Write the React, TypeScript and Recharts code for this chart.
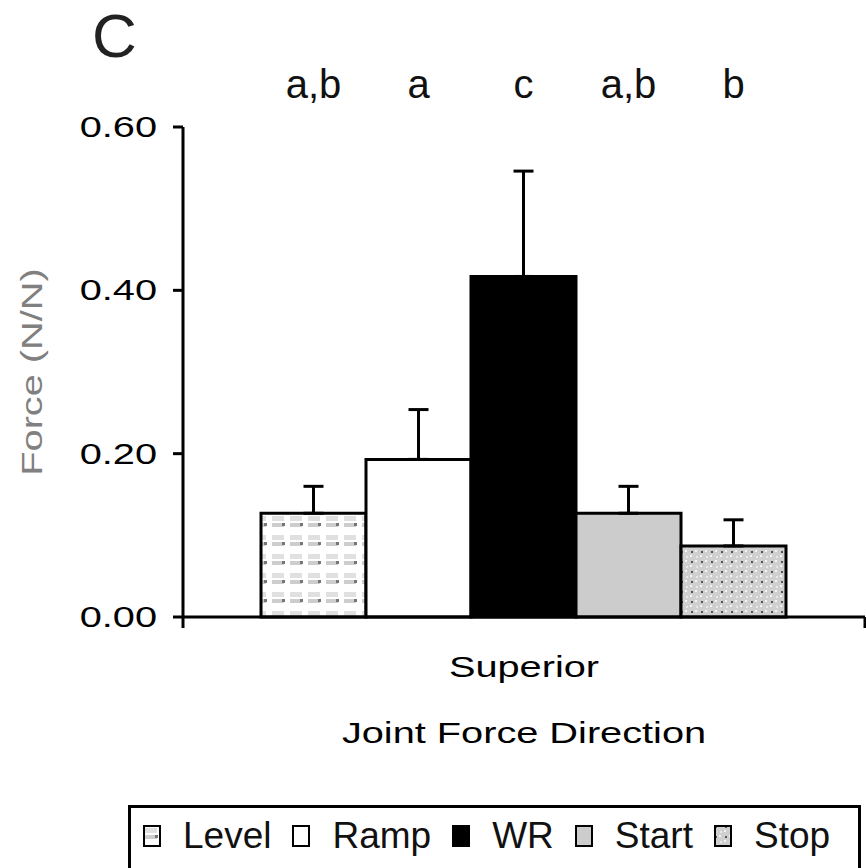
import React from "react";
import { BarChart, Bar, XAxis, YAxis, ErrorBar, LabelList } from "recharts";

// values (panel C, superior joint force)
const categories = ["Superior"];
const seriesNames = ["Level", "Ramp", "WR", "Start", "Stop"];
const means = [0.127, 0.193, 0.417, 0.127, 0.087];
const errors = [0.033, 0.061, 0.129, 0.033, 0.032];
const letters = ["a,b", "a", "c", "a,b", "b"];
const yTicks = [0, 0.2, 0.4, 0.6];

const fills = ["url(#levelPat)", "#ffffff", "#000000", "#cccccc", "url(#stopPat)"];

const data = categories.map((name) => {
  const row: Record<string, any> = { name };
  seriesNames.forEach((s, i) => {
    row[s] = means[i];
    row[s + "Err"] = [0, errors[i]];
  });
  return row;
});

const FONT = "'Liberation Sans', Arial, sans-serif";
const PLOT_TOP = 127;

// the axis text in the figure is horizontally stretched
function WideText({ x, y, anchor = "middle", size = 29, fill = "#000", rotate = 0, children }: any) {
  return (
    <g transform={`translate(${x},${y}) rotate(${rotate}) scale(1.37,1)`}>
      <text x={0} y={0} textAnchor={anchor} fontSize={size} fill={fill} fontFamily={FONT}>
        {children}
      </text>
    </g>
  );
}

const YTick = (p: any) => (
  <WideText x={p.x} y={p.y + 10} anchor="end">
    {Number(p.payload.value).toFixed(2)}
  </WideText>
);

const XTick = (p: any) => {
  const c = p.payload.coordinate;
  const off = p.payload.offset ?? 0;
  return (
    <g>
      <line x1={c - off} x2={c - off} y1={p.y} y2={p.y + 11} stroke="#000" strokeWidth={3} />
      <line x1={c + off} x2={c + off} y1={p.y} y2={p.y + 11} stroke="#000" strokeWidth={3} />
      <WideText x={p.x} y={p.y + 60}>{p.payload.value}</WideText>
    </g>
  );
};

const letterLabel = (i: number) => (p: any) => (
  <text
    x={p.x + p.width / 2}
    y={PLOT_TOP - 29}
    textAnchor="middle"
    fontSize={40}
    fontFamily={FONT}
    fill="#111"
  >
    {letters[i]}
  </text>
);

function Patterns() {
  return (
    <svg width={0} height={0} style={{ position: "absolute" }}>
      <defs>
        <pattern id="levelPat" width={18} height={19} patternUnits="userSpaceOnUse">
          <rect width={18} height={19} fill="#ffffff" />
          <rect x={2} y={3} width={12} height={5} fill="#e0e0e0" />
          <rect x={2} y={10} width={12} height={4} fill="#cdcdcd" />
          <rect x={12} y={10} width={3} height={3} fill="#777" />
        </pattern>
        <pattern id="stopPat" width={10} height={10} patternUnits="userSpaceOnUse">
          <rect width={10} height={10} fill="#cfcfcf" />
          <rect x={1} y={1} width={2} height={2} fill="#555" />
          <rect x={5} y={0} width={2} height={2} fill="#f4f4f4" />
          <rect x={0} y={5} width={2} height={2} fill="#f4f4f4" />
          <rect x={6} y={6} width={2} height={2} fill="#e8e8e8" />
        </pattern>
      </defs>
    </svg>
  );
}

export default function App() {
  return (
    <div
      style={{
        position: "fixed",
        left: 0,
        top: 0,
        width: 866,
        height: 868,
        overflow: "hidden",
        background: "#fff",
      }}
    >
      <Patterns />
      <div
        style={{
          position: "absolute",
          left: 92,
          top: 5,
          fontSize: 62,
          lineHeight: 1,
          fontFamily: FONT,
          color: "#222",
        }}
      >
        C
      </div>
      <BarChart
        width={866}
        height={868}
        data={data}
        margin={{ top: PLOT_TOP, right: 1, left: 63, bottom: 101 }}
        barGap={0}
        barCategoryGap={78}
      >
        <YAxis
          width={120}
          domain={[0, 0.6]}
          ticks={yTicks}
          tick={YTick}
          tickSize={10}
          tickMargin={16}
          axisLine={{ stroke: "#000", strokeWidth: 3 }}
          tickLine={{ stroke: "#000", strokeWidth: 3 }}
          label={{
            content: (p: any) => {
              const vb = p.viewBox;
              return (
                <WideText x={vb.x - 21} y={vb.y + vb.height / 2} rotate={-90} fill="#808080">
                  Force (N/N)
                </WideText>
              );
            },
          }}
        />
        <XAxis
          dataKey="name"
          height={150}
          tick={XTick}
          tickSize={0}
          tickMargin={0}
          tickLine={false}
          axisLine={{ stroke: "#000", strokeWidth: 3 }}
          label={{
            content: (p: any) => {
              const vb = p.viewBox;
              return (
                <WideText x={vb.x + vb.width / 2} y={vb.y + 126}>
                  Joint Force Direction
                </WideText>
              );
            },
          }}
        />
        {seriesNames.map((s, i) => (
          <Bar
            key={s}
            dataKey={s}
            fill={fills[i]}
            stroke="#000"
            strokeWidth={3}
            isAnimationActive={false}
          >
            <ErrorBar dataKey={s + "Err"} direction="y" width={10} stroke="#000" strokeWidth={3} />
            <LabelList dataKey={s} content={letterLabel(i)} />
          </Bar>
        ))}
      </BarChart>
      <div
        style={{
          position: "absolute",
          left: 128,
          top: 805,
          width: 733,
          height: 90,
          boxSizing: "border-box",
          border: "3px solid #000",
          display: "flex",
          alignItems: "flex-start",
          paddingLeft: 12,
          paddingTop: 9,
          fontFamily: FONT,
          fontSize: 37,
          lineHeight: "37px",
          color: "#111",
        }}
      >
        {seriesNames.map((s, i) => (
          <div
            key={s}
            style={{ display: "flex", alignItems: "center", height: 37, marginRight: 21, flexShrink: 0 }}
          >
            <svg width={18} height={22} style={{ marginRight: 22, flexShrink: 0, display: "block" }}>
              <rect x={1} y={1} width={16} height={20} fill={fills[i]} stroke="#000" strokeWidth={2} />
            </svg>
            <span>{s}</span>
          </div>
        ))}
      </div>
    </div>
  );
}
